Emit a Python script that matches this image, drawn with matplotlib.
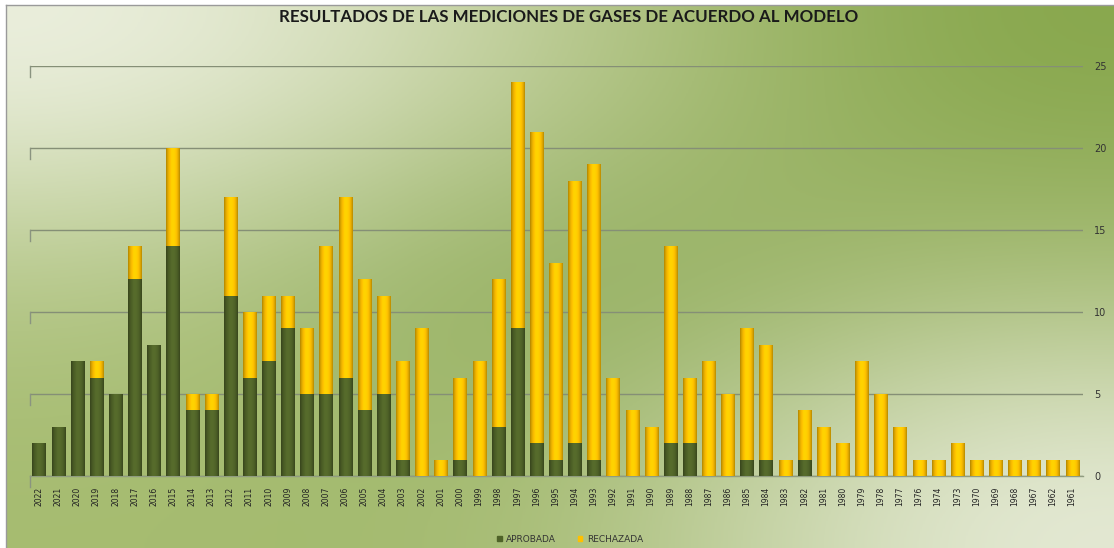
import numpy as np
import matplotlib
matplotlib.use("Agg")
import matplotlib.pyplot as plt
from matplotlib.colors import to_rgb
from matplotlib.patches import Patch
import matplotlib.transforms as mtransforms

years = ["2022", "2021", "2020", "2019", "2018", "2017", "2016", "2015", "2014", "2013",
         "2012", "2011", "2010", "2009", "2008", "2007", "2006", "2005", "2004", "2003",
         "2002", "2001", "2000", "1999", "1998", "1997", "1996", "1995", "1994", "1993",
         "1992", "1991", "1990", "1989", "1988", "1987", "1986", "1985", "1984", "1983",
         "1982", "1981", "1980", "1979", "1978", "1977", "1976", "1974", "1973", "1970",
         "1969", "1968", "1967", "1962", "1961"]
aprobada = [2, 3, 7, 6, 5, 12, 8, 14, 4, 4,
            11, 6, 7, 9, 5, 5, 6, 4, 5, 1,
            0, 0, 1, 0, 3, 9, 2, 1, 2, 1,
            0, 0, 0, 2, 2, 0, 0, 1, 1, 0,
            1, 0, 0, 0, 0, 0, 0, 0, 0, 0,
            0, 0, 0, 0, 0]
rechazada = [0, 0, 0, 1, 0, 2, 0, 6, 1, 1,
             6, 4, 4, 2, 4, 9, 11, 8, 6, 6,
             9, 1, 5, 7, 9, 15, 19, 12, 16, 18,
             6, 4, 3, 12, 4, 7, 5, 8, 7, 1,
             3, 3, 2, 7, 5, 3, 1, 1, 2, 1,
             1, 1, 1, 1, 1]
yticks = [0, 5, 10, 15, 20, 25]
title = "RESULTADOS DE LAS MEDICIONES DE GASES DE ACUERDO AL MODELO"
labels = ["APROBADA", "RECHAZADA"]

W, H = 1114, 548
fig = plt.figure(figsize=(W / 100, H / 100), dpi=100)
fig.patch.set_facecolor("white")

# background gradient
bg = fig.add_axes([6 / W, 0, 1 - 6 / W, 1 - 5 / H], zorder=-10)
grid_cols = [["#eef1e2", "#bccb93", "#86a64a"],
             ["#b6c88a", "#84a44c", "#a8bd78"],
             ["#a6bc70", "#a2b96e", "#e8ecda"]]
arr = np.array([[to_rgb(c) for c in row] for row in grid_cols])
bg.imshow(arr, aspect="auto", interpolation="bicubic", extent=[0, 1, 1, 0])
bg.set_xlim(0, 1)
bg.set_ylim(1, 0)
for s in ["right", "bottom"]:
    bg.spines[s].set_visible(False)
for s in ["left", "top"]:
    bg.spines[s].set_color("#9a9a9a")
    bg.spines[s].set_linewidth(1)
bg.set_xticks([])
bg.set_yticks([])

ax = fig.add_axes([30 / W, (H - 476) / H, (1083 - 30) / W, (476 - 66) / H])
ax.set_facecolor("none")
x = np.arange(len(years))
green = "#4f6228"
yellow = "#ffc000"
b1 = ax.bar(x, aprobada, width=0.68, color=green, edgecolor="#3d4c1e", linewidth=0.6, zorder=3)
b2 = ax.bar(x, rechazada, width=0.68, bottom=aprobada, color=yellow, edgecolor="#c99700",
            linewidth=0.6, zorder=3)

# cylinder shading
def shade(c, n=32):
    base = np.array(to_rgb(c))
    t = np.linspace(-1, 1, n)
    f = 0.72 + 0.38 * np.cos(t * np.pi / 2) ** 0.8
    f = np.where(t < -0.3, f * 0.97, f)
    return np.clip(base[None, :] * f[:, None], 0, 1)[None, :, :]

gimg = {green: shade(green), yellow: shade(yellow)}
for bars, col in [(b1, green), (b2, yellow)]:
    for p in bars:
        if p.get_height() <= 0:
            continue
        x0, y0, w, h = p.get_x(), p.get_y(), p.get_width(), p.get_height()
        im = ax.imshow(gimg[col], extent=[x0, x0 + w, y0, y0 + h], aspect="auto",
                       interpolation="bilinear", zorder=3.5)
        im.set_clip_path(p)

ax.set_xlim(-0.47, len(years) - 1 + 0.57)
ax.set_ylim(0, 25)
ax.set_aspect("auto")
ax.set_yticks(yticks)
ax.yaxis.tick_right()
ax.tick_params(axis="y", length=0, pad=8, labelsize=7, labelcolor="#333333")
ax.set_xticks(x)
ax.set_xticklabels(years, rotation=90, fontsize=5.5, color="#222222")
ax.tick_params(axis="x", length=0, pad=8)
ax.grid(axis="y", color="#858f76", linewidth=1, zorder=0)
for s in ["top", "right", "left"]:
    ax.spines[s].set_visible(False)
ax.spines["bottom"].set_color("#909c80")
ax.spines["bottom"].set_linewidth(1)

# small wall marks at left end of gridlines
trans = mtransforms.blended_transform_factory(ax.transAxes, ax.transData)
for yv in yticks:
    ax.plot([0, 0], [yv, yv - 0.7], color="#8a9480", lw=1, transform=trans, clip_on=False)

fig.text(569 / W, 1 - 17 / H, title, ha="center", va="center", fontsize=12.2,
         fontweight="bold", family="Lato", color="#1a1a1a")

leg = fig.legend([Patch(color=green), Patch(color=yellow)], labels, loc="center",
                 bbox_to_anchor=(570 / W, 1 - 539 / H), ncol=2, frameon=False,
                 fontsize=6.5, handlelength=0.5, handleheight=0.5, columnspacing=2.4,
                 handletextpad=0.5)
for t in leg.get_texts():
    t.set_color("#333333")

fig.savefig("out.png", dpi=100)
